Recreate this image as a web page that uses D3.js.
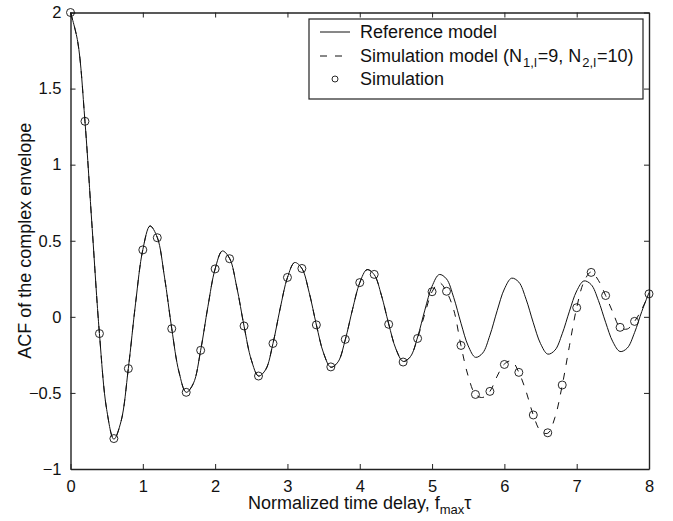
<!DOCTYPE html>
<html>
<head>
<meta charset="utf-8">
<script src="https://cdn.jsdelivr.net/npm/d3@7"></script>
<style>
  body { margin: 0; background: #fff; }
  text { font-family: "Liberation Sans", Arial, sans-serif; fill: #111; }
</style>
</head>
<body>
<div id="chart"></div>
<script>
const width = 673;
const height = 521;

// normalized time delay, step 0.1 from 0 to 8
const tau = d3.range(81).map(i => i / 10);

// reference model (solid)
const refValues = [
  2.000, 1.808, 1.285, 0.581, -0.110, -0.608, -0.804, -0.685, -0.338, 0.090,
  0.441, 0.597, 0.522, 0.261, -0.077, -0.362, -0.496, -0.437, -0.220, 0.067,
  0.315, 0.433, 0.384, 0.194, -0.061, -0.282, -0.389, -0.346, -0.175, 0.056,
  0.258, 0.357, 0.318, 0.161, -0.052, -0.239, -0.331, -0.296, -0.150, 0.049,
  0.224, 0.310, 0.277, 0.141, -0.046, -0.211, -0.293, -0.262, -0.133, 0.044,
  0.201, 0.278, 0.249, 0.126, -0.042, -0.191, -0.266, -0.238, -0.121, 0.040,
  0.183, 0.254, 0.228, 0.116, -0.039, -0.176, -0.245, -0.219, -0.111, 0.037,
  0.170, 0.236, 0.212, 0.108, -0.036, -0.164, -0.228, -0.205, -0.104, 0.035,
  0.159
];

// simulation model (dashed)
const simModelValues = [
  2.000, 1.808, 1.285, 0.581, -0.110, -0.608, -0.804, -0.685, -0.338, 0.090,
  0.441, 0.597, 0.522, 0.261, -0.077, -0.362, -0.496, -0.437, -0.220, 0.067,
  0.315, 0.433, 0.384, 0.194, -0.061, -0.282, -0.389, -0.346, -0.175, 0.056,
  0.258, 0.357, 0.318, 0.161, -0.052, -0.239, -0.331, -0.296, -0.150, 0.049,
  0.224, 0.310, 0.277, 0.141, -0.046, -0.211, -0.293, -0.262, -0.140, 0.020,
  0.165, 0.225, 0.165, 0.045, -0.190, -0.390, -0.510, -0.530, -0.490, -0.390,
  -0.310, -0.290, -0.365, -0.490, -0.645, -0.750, -0.765, -0.660, -0.450, -0.190,
  0.060, 0.230, 0.295, 0.240, 0.140, 0.030, -0.070, -0.080, -0.030, 0.050,
  0.150
];

// simulation points (circles), step 0.2
const simTau = d3.range(41).map(i => i / 5);
const simPoints = [
  2.000, 1.285, -0.110, -0.800, -0.340, 0.440, 0.520, -0.078, -0.496, -0.220,
  0.315, 0.382, -0.060, -0.389, -0.175, 0.259, 0.318, -0.053, -0.329, -0.148,
  0.225, 0.279, -0.049, -0.297, -0.142, 0.165, 0.168, -0.188, -0.510, -0.490,
  -0.313, -0.365, -0.645, -0.762, -0.448, 0.060, 0.292, 0.140, -0.069, -0.030,
  0.151
];

const xTicks = [0, 1, 2, 3, 4, 5, 6, 7, 8];
const yTicks = [-1, -0.5, 0, 0.5, 1, 1.5, 2];

const x0 = 70.5, x1 = 649, yTop = 12.5, yBot = 469;

const svg = d3.select("#chart").append("svg")
    .attr("width", width)
    .attr("height", height);

const xScale = d3.scaleLinear().domain([0, 8]).range([x0, x1]);
const yScale = d3.scaleLinear().domain([-1, 2]).range([yBot, yTop]);

const fmt = v => (v < 0 ? "\u2212" : "") + Math.abs(v);

// axes, MATLAB style: ticks inside, box on all sides
svg.append("g")
    .attr("transform", `translate(0,${yBot})`)
    .call(d3.axisBottom(xScale).tickValues(xTicks).tickSizeInner(-5).tickSizeOuter(0).tickPadding(11).tickFormat(fmt))
    .call(g => g.selectAll("text").attr("font-size", 16.5).attr("font-family", null).attr("fill", "#111"));

svg.append("g")
    .attr("transform", `translate(${x0},0)`)
    .call(d3.axisLeft(yScale).tickValues(yTicks).tickSizeInner(-5).tickSizeOuter(0).tickPadding(9).tickFormat(fmt))
    .call(g => g.selectAll("text").attr("font-size", 16.5).attr("font-family", null).attr("fill", "#111"));

svg.append("g")
    .attr("transform", `translate(0,${yTop})`)
    .call(d3.axisTop(xScale).tickValues(xTicks).tickSizeInner(-5).tickSizeOuter(0).tickFormat(""));

svg.append("g")
    .attr("transform", `translate(${x1},0)`)
    .call(d3.axisRight(yScale).tickValues(yTicks).tickSizeInner(-5).tickSizeOuter(0).tickFormat(""));

svg.selectAll(".domain").attr("stroke", "#222").attr("stroke-width", 1.4);
svg.selectAll(".tick line").attr("stroke", "#222");

const line = d3.line()
    .x(d => xScale(d[0]))
    .y(d => yScale(d[1]))
    .curve(d3.curveCatmullRom);

svg.append("path")
    .datum(tau.map((t, i) => [t, refValues[i]]))
    .attr("fill", "none")
    .attr("stroke", "#111")
    .attr("stroke-width", 1)
    .attr("d", line);

svg.append("path")
    .datum(tau.map((t, i) => [t, simModelValues[i]]))
    .attr("fill", "none")
    .attr("stroke", "#111")
    .attr("stroke-width", 1)
    .attr("stroke-dasharray", "7,8")
    .attr("d", line);

svg.append("g")
    .selectAll("circle")
    .data(simTau.map((t, i) => [t, simPoints[i]]))
    .join("circle")
    .attr("cx", d => xScale(d[0]))
    .attr("cy", d => yScale(d[1]))
    .attr("r", 4)
    .attr("fill", "none")
    .attr("stroke", "#111")
    .attr("stroke-width", 0.9);

// axis labels
const xl = svg.append("text")
    .attr("x", (x0 + x1) / 2)
    .attr("y", 509)
    .attr("text-anchor", "middle")
    .attr("font-size", 18);
xl.append("tspan").text("Normalized time delay, f");
xl.append("tspan").attr("font-size", 13).attr("dy", 5).text("max");
xl.append("tspan").attr("dy", -5).text("\u03c4");

svg.append("text")
    .attr("transform", `translate(31,${(yTop + yBot) / 2}) rotate(-90)`)
    .attr("text-anchor", "middle")
    .attr("font-size", 18)
    .text("ACF of the complex envelope");

// legend
const lg = svg.append("g");
lg.append("rect")
    .attr("x", 309).attr("y", 19)
    .attr("width", 334).attr("height", 80)
    .attr("fill", "#fff")
    .attr("stroke", "#222")
    .attr("stroke-width", 1.2);

const rows = [32, 56, 79];
lg.append("line").attr("x1", 320).attr("x2", 350).attr("y1", rows[0]).attr("y2", rows[0])
    .attr("stroke", "#111");
lg.append("line").attr("x1", 320).attr("x2", 350).attr("y1", rows[1]).attr("y2", rows[1])
    .attr("stroke", "#111").attr("stroke-dasharray", "7,8");
lg.append("circle").attr("cx", 335).attr("cy", rows[2]).attr("r", 3)
    .attr("fill", "none").attr("stroke", "#111").attr("stroke-width", 0.9);

lg.append("text").attr("x", 360).attr("y", rows[0] + 6).attr("font-size", 18).text("Reference model");
const t2 = lg.append("text").attr("x", 360).attr("y", rows[1] + 6).attr("font-size", 18);
t2.append("tspan").text("Simulation model (N");
t2.append("tspan").attr("font-size", 13).attr("dx", 1).attr("dy", 5).text("1,l");
t2.append("tspan").attr("dx", 1).attr("dy", -5).text("=9, N");
t2.append("tspan").attr("font-size", 13).attr("dx", 1).attr("dy", 5).text("2,l");
t2.append("tspan").attr("dx", 1).attr("dy", -5).text("=10)");
lg.append("text").attr("x", 360).attr("y", rows[2] + 6).attr("font-size", 18).text("Simulation");
</script>
</body>
</html>
